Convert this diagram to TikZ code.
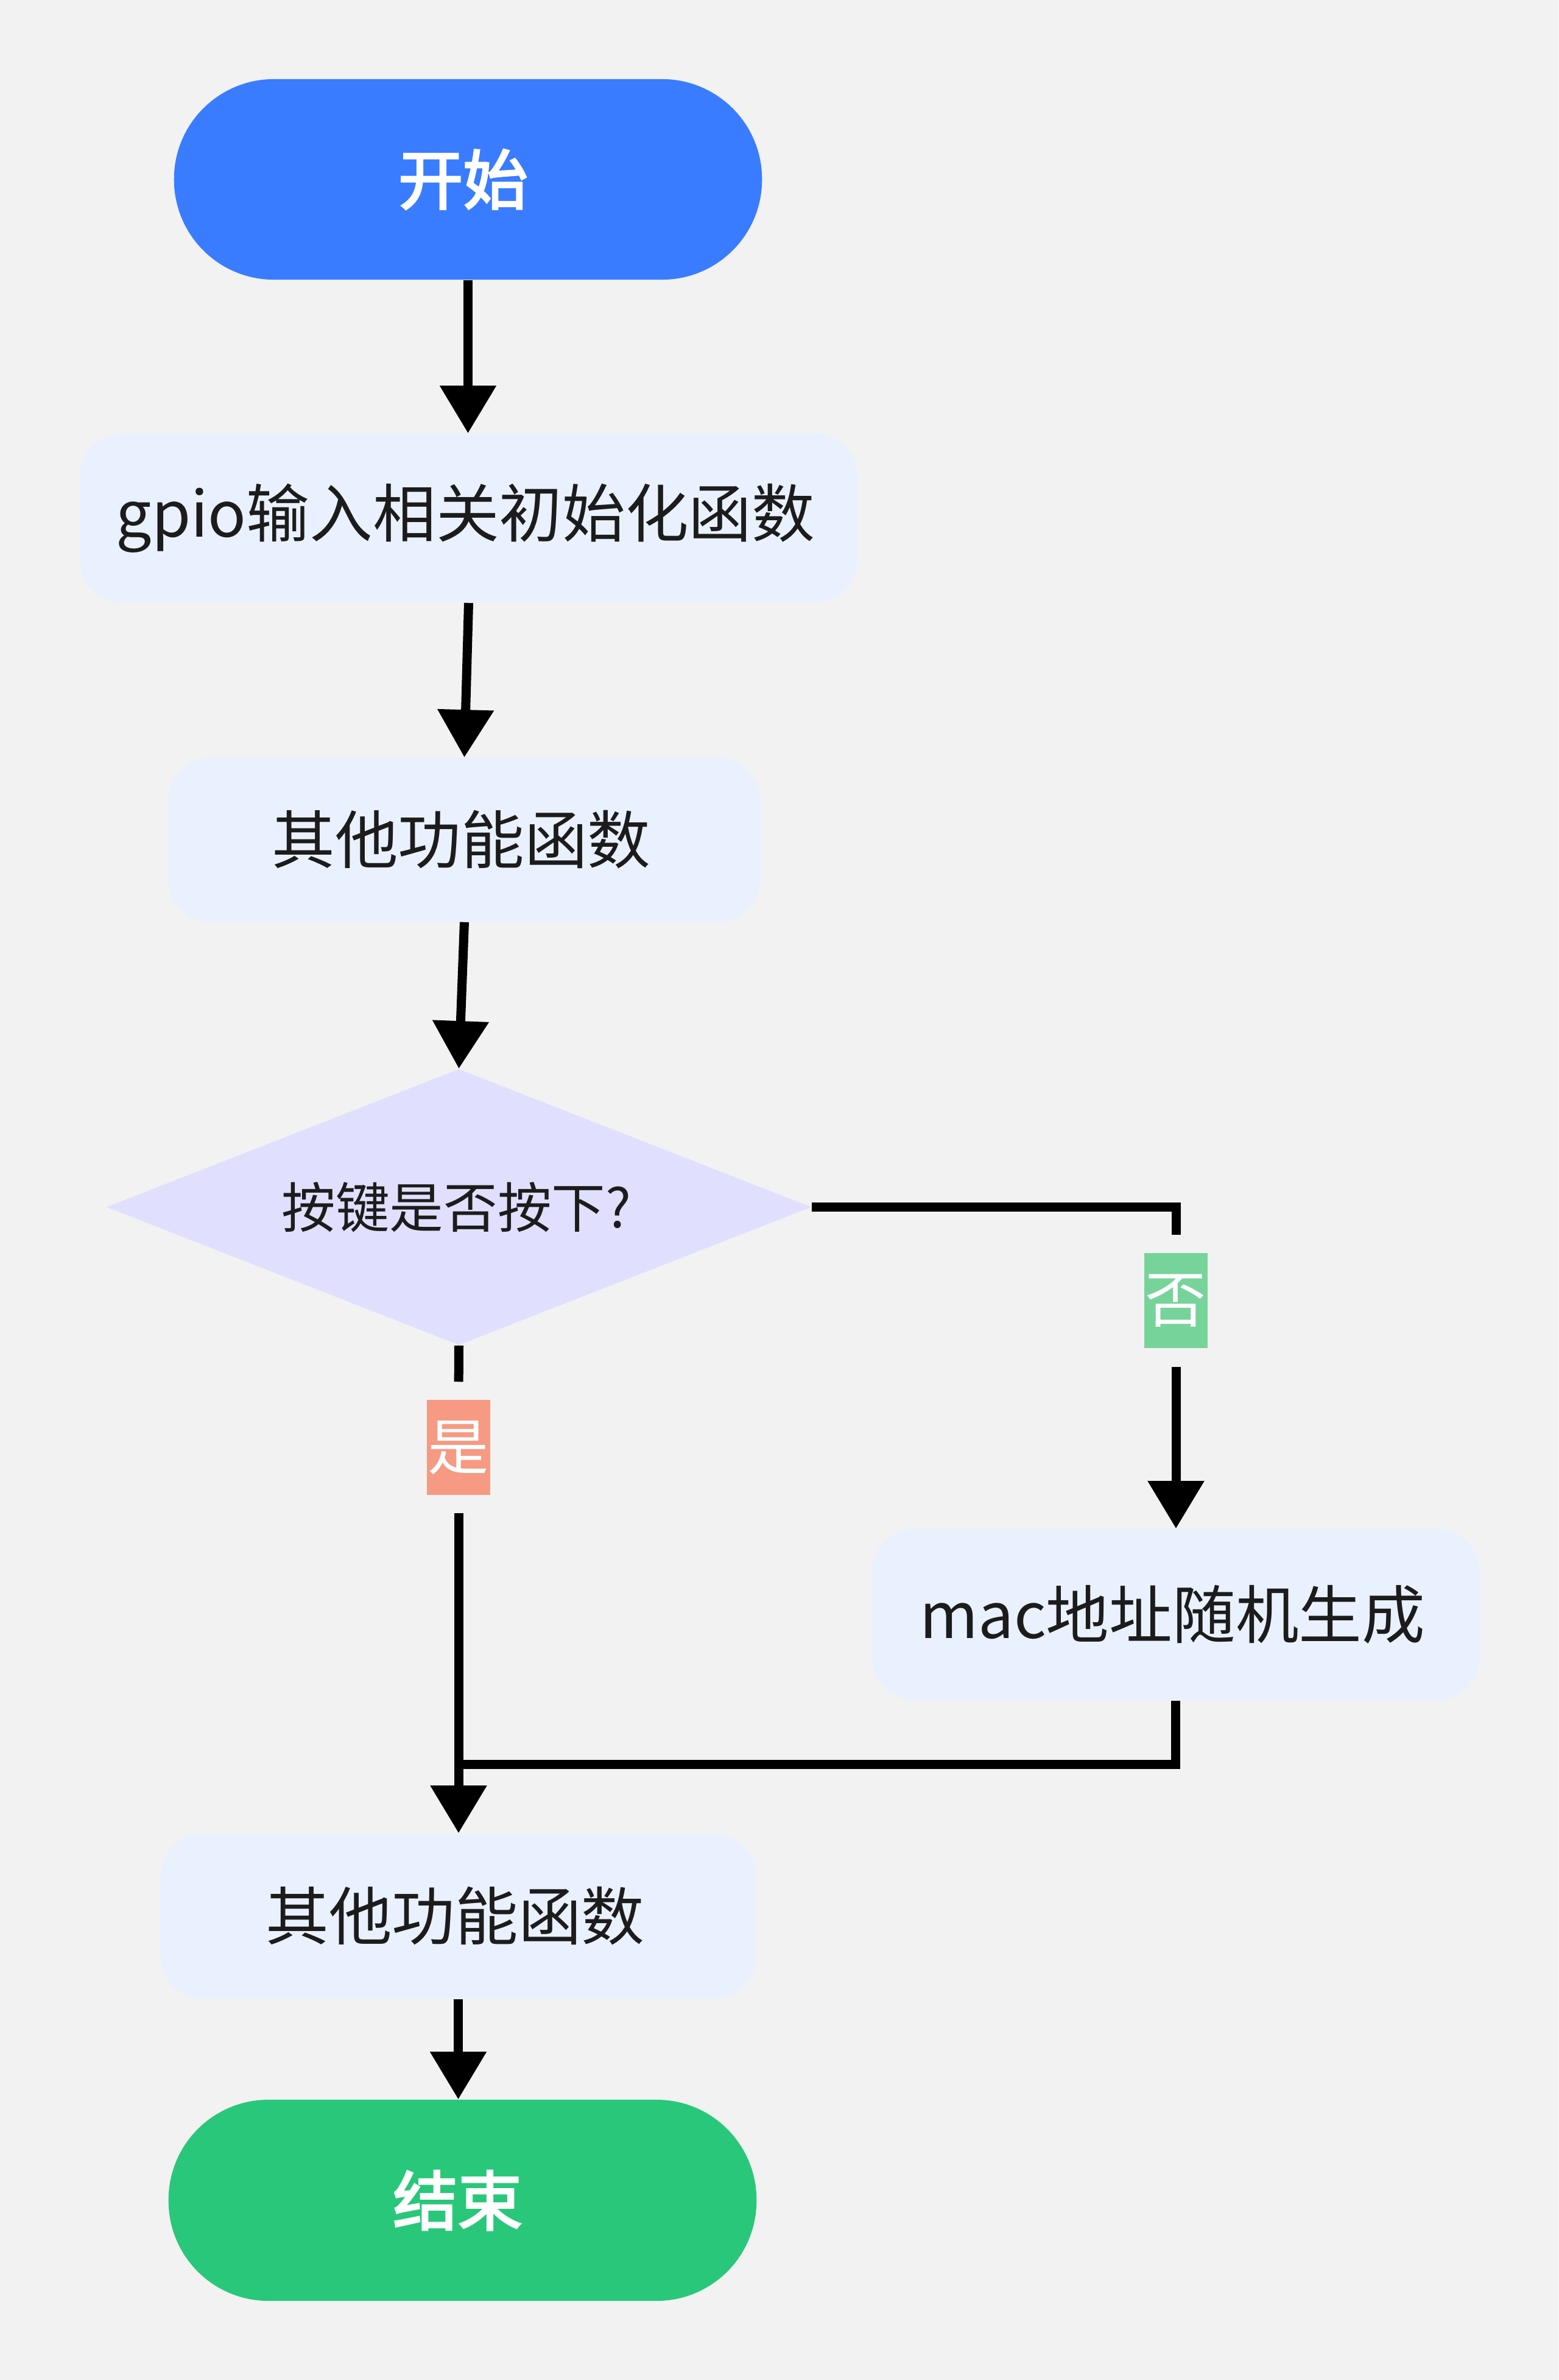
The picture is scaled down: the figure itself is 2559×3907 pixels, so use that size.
\documentclass[tikz,border=0pt]{standalone}
\usepackage{fontspec}
\setmainfont{Noto Sans CJK SC}
\newfontfamily\termfont[FakeBold=3]{Noto Sans CJK SC}
\usetikzlibrary{arrows.meta,shapes.geometric}
\definecolor{bgc}{HTML}{F2F2F2}
\definecolor{startc}{HTML}{3A7CFF}
\definecolor{endc}{HTML}{29C77A}
\definecolor{boxc}{HTML}{EAF1FE}
\definecolor{diac}{HTML}{E0E0FE}
\definecolor{yesc}{HTML}{F69A83}
\definecolor{noc}{HTML}{76D49A}
\definecolor{txt}{HTML}{1C1C1C}
\begin{document}
\begin{tikzpicture}[x=0.01cm,y=-0.01cm,
  conn/.style={line width=0.15cm, draw=black},
  arr/.style={conn,-{Triangle[width=0.89cm,length=0.78cm]}},
  proc/.style={rectangle, rounded corners=0.7cm, fill=boxc, inner sep=0pt, text=txt,
    font=\fontsize{29.5pt}{35pt}\selectfont, execute at end node={\kern0.1cm}},
  term/.style={rectangle, rounded corners=1.64cm, inner sep=0pt, text=white,
    font=\fontsize{30.2pt}{36pt}\termfont, execute at end node={\kern0.16cm}},
  lbl/.style={rectangle, inner sep=0pt, minimum width=1.04cm, minimum height=1.56cm,
    text=white, font=\fontsize{28.5pt}{34pt}\selectfont}
]
\fill[bgc] (0,0) rectangle (2559,3907);
\useasboundingbox (0,0) rectangle (2559,3907);

\node[term, fill=startc, minimum width=9.65cm, minimum height=3.29cm] (start) at (768.5,294.5) {开始};
\node[proc, minimum width=12.77cm, minimum height=2.77cm] (gpio) at (769.5,850.5) {gpio输入相关初始化函数};
\node[proc, minimum width=9.73cm, minimum height=2.69cm] (f1) at (762.5,1378.5) {其他功能函数};
\node[diamond, aspect=2.554, fill=diac, inner sep=0pt, minimum width=11.57cm, minimum height=4.53cm,
  text=txt, font=\fontsize{25.2pt}{30pt}\selectfont, execute at end node={\kern0.08cm}] (dec) at (753.5,1981.5) {按键是否按下?};
\node[proc, minimum width=9.97cm, minimum height=2.81cm] (mac) at (1930.5,2650.5) {mac地址随机生成};
\node[proc, minimum width=9.77cm, minimum height=2.71cm] (f2) at (752.5,3145.5) {其他功能函数};
\node[term, fill=endc, minimum width=9.65cm, minimum height=3.3cm] (end) at (759.5,3612) {结束};

\node[lbl, fill=yesc] (yes) at (753,2376) {是};
\node[lbl, fill=noc] (no) at (1931,2135) {否};
\coordinate (join) at (752.5,2896);

\draw[arr] (start.south) -- (start.south |- gpio.north);
\draw[arr] (gpio.south) -- (f1.north);
\draw[arr] (f1.south) -- (dec.north);
\draw[conn, shorten >=0.29cm] (dec.south) -- (yes.north);
\draw[arr, shorten <=0.29cm] (yes.south) -- (yes.south |- f2.north);
\draw[conn, shorten >=0.29cm] (dec.east) -| (no.north);
\draw[arr, shorten <=0.30cm] (no.south) -- (no.south |- mac.north);
\draw[conn] (mac.south) |- (join);
\draw[arr] (f2.south) -- (f2.south |- end.north);
\end{tikzpicture}
\end{document}
